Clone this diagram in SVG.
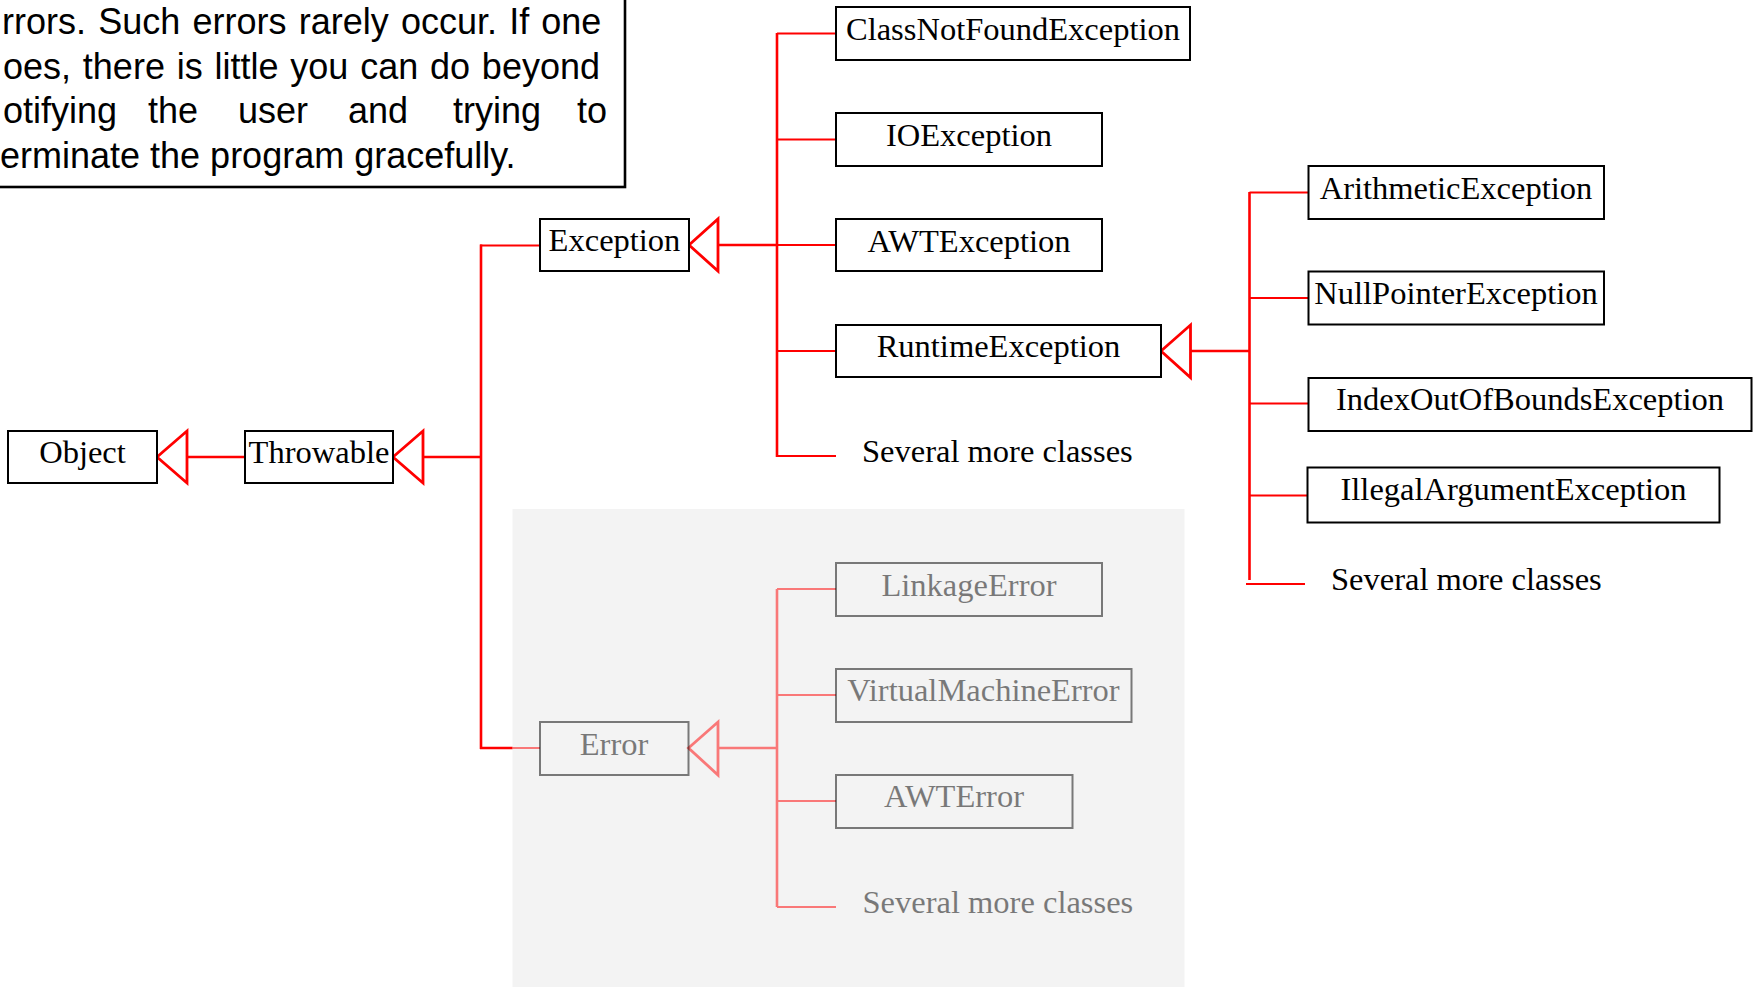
<svg xmlns="http://www.w3.org/2000/svg" width="1758" height="987" viewBox="0 0 1758 987">
  <defs>
    <style>
      .box { fill: #ffffff; stroke: #000000; stroke-width: 2; }
      .lbl { font-family: "Liberation Serif", "Times New Roman", serif; font-size: 32.5px; fill: #000000; text-anchor: middle; }
      .more { font-family: "Liberation Serif", "Times New Roman", serif; font-size: 32.5px; fill: #000000; }
      .note { font-family: "Liberation Sans", Arial, sans-serif; font-size: 36px; fill: #000000; }
      .trunk { fill: none; stroke: #ff0000; stroke-width: 2.6; }
      .branch { fill: none; stroke: #ff0000; stroke-width: 2; }
      .tri { fill: #ffffff; stroke: #ff0000; stroke-width: 2.8; stroke-linejoin: miter; }
      .faded { opacity: 0.5; }
      .faded .box { fill: none; }
      .faded .tri { fill: #f3f3f3; }
    </style>
  </defs>

  <rect width="1758" height="987" fill="#ffffff"/>

  <!-- explanatory note in the top-left corner -->
  <g id="note">
    <rect x="-20" y="-20" width="645" height="207" fill="#ffffff" stroke="#000000" stroke-width="2.6"/>
    <text class="note" x="2" y="34" word-spacing="2.2">rrors. Such errors rarely occur. If one</text>
    <text class="note" x="3" y="78.5" word-spacing="1.8">oes, there is little you can do beyond</text>
    <text class="note" y="123"><tspan x="3">otifying</tspan><tspan x="148">the</tspan><tspan x="238">user</tspan><tspan x="348">and</tspan><tspan x="453">trying</tspan><tspan x="577">to</tspan></text>
    <text class="note" x="0" y="167.5">erminate the program gracefully.</text>
  </g>

  <!-- shaded area behind the Error branch -->
  <rect id="error-panel" x="512.5" y="509" width="672" height="480" fill="#f3f3f3"/>

  <!-- inheritance connectors -->
  <g id="connectors">
    <!-- Object <- Throwable -->
    <line class="trunk" x1="187" y1="457" x2="245" y2="457"/>
    <polygon class="tri" points="157,457 187,431 187,483"/>
    <!-- Throwable <- Exception / Error -->
    <line class="trunk" x1="423" y1="457" x2="481" y2="457"/>
    <polygon class="tri" points="393,457 423,431 423,483"/>
    <line class="trunk" x1="481" y1="244.5" x2="481" y2="749"/>
    <line class="branch" x1="480" y1="245.5" x2="540" y2="245.5"/>
    <line class="trunk" x1="480" y1="748" x2="512.5" y2="748"/>
    <!-- Exception <- subclasses -->
    <line class="trunk" x1="718" y1="245" x2="777" y2="245"/>
    <polygon class="tri" points="689,245 718,219 718,271"/>
    <line class="trunk" x1="777" y1="33" x2="777" y2="457"/>
    <line class="branch" x1="777" y1="33.5" x2="836" y2="33.5"/>
    <line class="branch" x1="777" y1="139.5" x2="836" y2="139.5"/>
    <line class="branch" x1="777" y1="245" x2="836" y2="245"/>
    <line class="branch" x1="777" y1="351" x2="836" y2="351"/>
    <line class="branch" x1="777" y1="456" x2="836" y2="456"/>
    <!-- RuntimeException <- subclasses -->
    <line class="trunk" x1="1190.5" y1="351" x2="1250" y2="351"/>
    <polygon class="tri" points="1161,351 1190.5,325 1190.5,377.5"/>
    <line class="trunk" x1="1249.5" y1="192" x2="1249.5" y2="580"/>
    <line class="branch" x1="1249.5" y1="192.5" x2="1308.5" y2="192.5"/>
    <line class="branch" x1="1249.5" y1="298" x2="1308.5" y2="298"/>
    <line class="branch" x1="1249.5" y1="403.5" x2="1308.5" y2="403.5"/>
    <line class="branch" x1="1249.5" y1="495.5" x2="1307.5" y2="495.5"/>
    <line class="branch" x1="1246" y1="584" x2="1305" y2="584"/>
  </g>

  <!-- faded connectors of the Error branch -->
  <g id="error-connectors" class="faded">
    <line class="branch" x1="512.5" y1="748" x2="540" y2="748"/>
    <line class="trunk" x1="718" y1="748" x2="777" y2="748"/>
    <polygon class="tri" points="688.5,748 718,722 718,775"/>
    <line class="trunk" x1="777" y1="589" x2="777" y2="907"/>
    <line class="branch" x1="777" y1="589" x2="836" y2="589"/>
    <line class="branch" x1="777" y1="695" x2="836" y2="695"/>
    <line class="branch" x1="777" y1="801" x2="836" y2="801"/>
    <line class="branch" x1="777" y1="907" x2="836" y2="907"/>
  </g>

  <!-- class nodes -->
  <g id="object">
    <rect class="box" x="8" y="431" width="149" height="52"/>
    <text class="lbl" x="82.5" y="462.5">Object</text>
  </g>
  <g id="throwable">
    <rect class="box" x="245" y="431" width="148" height="52"/>
    <text class="lbl" x="319" y="462.5">Throwable</text>
  </g>
  <g id="exception">
    <rect class="box" x="540" y="219" width="149" height="52"/>
    <text class="lbl" x="614.5" y="251">Exception</text>
  </g>
  <g id="class-not-found-exception">
    <rect class="box" x="836" y="7" width="354" height="53"/>
    <text class="lbl" x="1013" y="40">ClassNotFoundException</text>
  </g>
  <g id="io-exception">
    <rect class="box" x="836" y="113" width="266" height="53"/>
    <text class="lbl" x="969" y="146">IOException</text>
  </g>
  <g id="awt-exception">
    <rect class="box" x="836" y="219" width="266" height="52"/>
    <text class="lbl" x="969" y="251.5">AWTException</text>
  </g>
  <g id="runtime-exception">
    <rect class="box" x="836" y="325" width="325" height="52"/>
    <text class="lbl" x="998.5" y="357">RuntimeException</text>
  </g>
  <g id="exception-more">
    <text class="more" x="862" y="462">Several more classes</text>
  </g>
  <g id="arithmetic-exception">
    <rect class="box" x="1308.5" y="166" width="295.5" height="53"/>
    <text class="lbl" x="1456" y="198.5">ArithmeticException</text>
  </g>
  <g id="null-pointer-exception">
    <rect class="box" x="1308.5" y="271.5" width="295.5" height="53"/>
    <text class="lbl" x="1456" y="304">NullPointerException</text>
  </g>
  <g id="index-out-of-bounds-exception">
    <rect class="box" x="1308.5" y="378" width="443" height="53"/>
    <text class="lbl" x="1530" y="410">IndexOutOfBoundsException</text>
  </g>
  <g id="illegal-argument-exception">
    <rect class="box" x="1307.5" y="467.5" width="412" height="55"/>
    <text class="lbl" x="1513.5" y="500">IllegalArgumentException</text>
  </g>
  <g id="runtime-more">
    <text class="more" x="1331" y="589.5">Several more classes</text>
  </g>

  <g id="error" class="faded">
    <rect class="box" x="540" y="722" width="148.5" height="53"/>
    <text class="lbl" x="614" y="754.5">Error</text>
  </g>
  <g id="linkage-error" class="faded">
    <rect class="box" x="836" y="563" width="266" height="53"/>
    <text class="lbl" x="969" y="595.5">LinkageError</text>
  </g>
  <g id="virtual-machine-error" class="faded">
    <rect class="box" x="836" y="669" width="295.5" height="53"/>
    <text class="lbl" x="983.5" y="701">VirtualMachineError</text>
  </g>
  <g id="awt-error" class="faded">
    <rect class="box" x="836" y="775" width="236.5" height="53"/>
    <text class="lbl" x="954" y="807">AWTError</text>
  </g>
  <g id="error-more" class="faded">
    <text class="more" x="862.5" y="913">Several more classes</text>
  </g>
</svg>
